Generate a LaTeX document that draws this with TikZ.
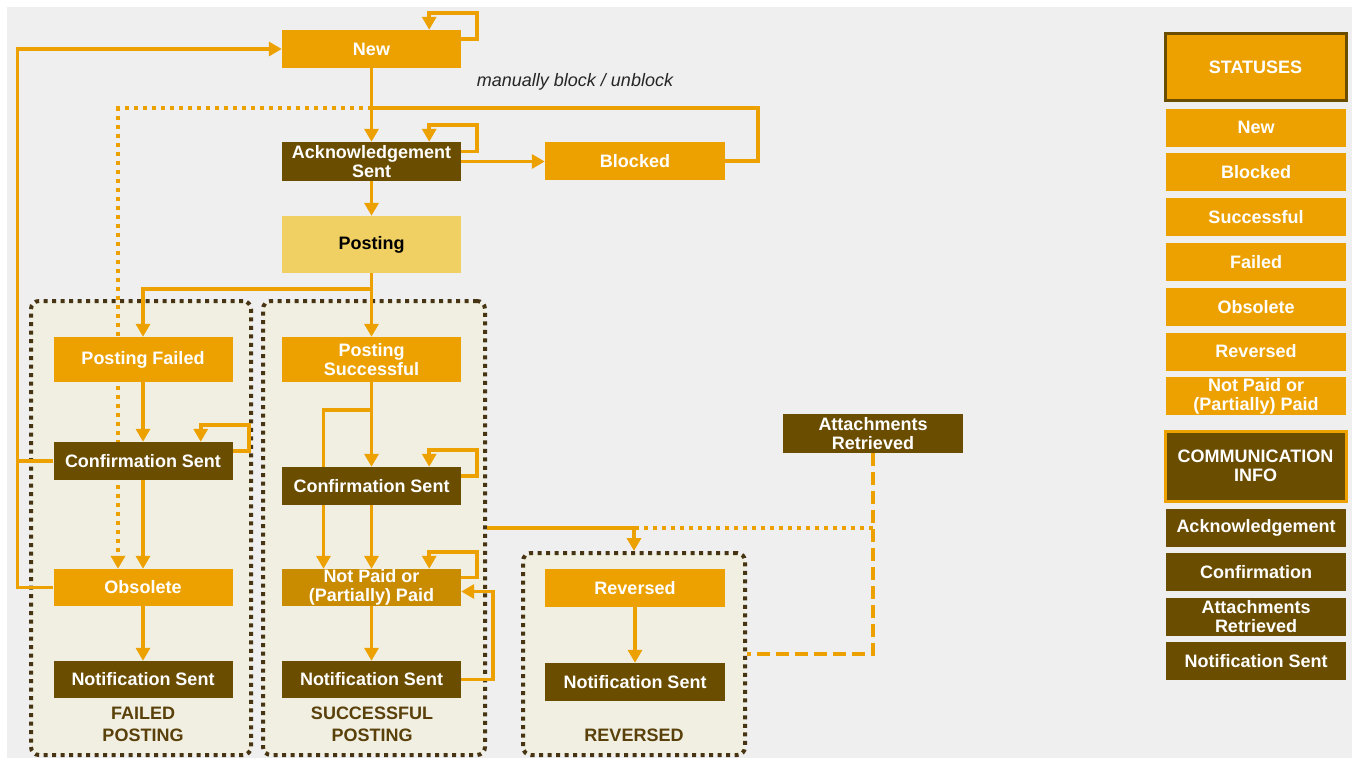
\documentclass[tikz,border=0pt]{standalone}
\usepackage{fontspec}
\setmainfont{Liberation Sans}
\usetikzlibrary{arrows.meta}

\definecolor{stat}{RGB}{237,161,0}
\definecolor{comm}{RGB}{107,77,0}
\definecolor{unpaid}{RGB}{201,139,0}
\definecolor{posted}{RGB}{240,208,98}
\definecolor{grpfill}{RGB}{240,239,225}
\definecolor{grpline}{RGB}{70,52,18}
\definecolor{grptext}{RGB}{90,64,10}
\definecolor{canvas}{RGB}{239,239,239}

\pgfdeclarelayer{paper}
\pgfdeclarelayer{groups}
\pgfdeclarelayer{lines}
\pgfsetlayers{paper,groups,lines,main}

\tikzset{
  box/.style={minimum width=179pt, minimum height=38pt, inner sep=0pt, align=center,
    text=white, font=\fontsize{18}{19}\selectfont\bfseries},
  status/.style={box, fill=stat},
  info/.style={box, fill=comm},
  grp/.style={draw=grpline, fill=grpfill, line width=4pt, dash pattern=on 4pt off 4.5pt,
    rounded corners=8pt, inner sep=0pt},
  grplabel/.style={text=grptext, align=center, font=\fontsize{18}{22}\selectfont\bfseries},
  link/.style={draw=stat, line width=3.6pt},
  flow/.style={link, -{Triangle[width=14pt,length=13pt]}},
  dotlink/.style={link, line width=4pt, dash pattern=on 4pt off 5pt},
  dashlink/.style={link, line width=4pt, dash pattern=on 13pt off 6pt},
}

\begin{document}
\begin{tikzpicture}[x=1pt, y=-1pt]
  \useasboundingbox (0,0) rectangle (1356,758);
  \begin{pgfonlayer}{paper}
    \fill[white] (0,0) rectangle (1356,758);
    \fill[canvas] (7,7) rectangle (1352,758);
  \end{pgfonlayer}

  % groups
  \begin{pgfonlayer}{groups}
    \node[grp, minimum width=220pt, minimum height=454pt] (failgrp) at (141,528) {};
    \node[grp, minimum width=222pt, minimum height=454pt] (succgrp) at (374,528) {};
    \node[grp, minimum width=222pt, minimum height=202pt] (revgrp) at (634,654) {};
  \end{pgfonlayer}
  \node[grplabel] at (143,724) {FAILED\\POSTING};
  \node[grplabel] at (372,724) {SUCCESSFUL\\POSTING};
  \node[grplabel] at (634,735) {REVERSED};

  % top
  \node[status] (new) at (371.5,49) {New};
  \node[info, minimum height=39pt] (ack) at (371.5,161.5) {Acknowledgement\\Sent};
  \node[status, minimum width=180pt] (blocked) at (635,161) {Blocked};
  \node[box, fill=posted, text=black, minimum height=57pt] (posting) at (371.5,244.5) {Posting};
  \node[font=\fontsize{18}{20}\selectfont\itshape, text=black!85] (blocktxt) at (575,82) {manually block / unblock};
  \coordinate (junc) at (371.5,108);

  % failed posting
  \node[status, minimum height=45pt] (pfail) at (143,359.5) {Posting Failed};
  \node[info] (fconf) at (143,461) {Confirmation Sent};
  \node[status, minimum height=37pt] (obsolete) at (143,587.5) {Obsolete};
  \node[info, minimum height=37pt] (fnotif) at (143,679.5) {Notification Sent};

  % successful posting
  \node[status, minimum height=45pt] (psucc) at (371.5,359.5) {Posting\\Successful};
  \node[info] (sconf) at (371.5,486) {Confirmation Sent};
  \node[box, fill=unpaid, minimum height=37pt] (notpaid) at (371.5,587.5) {Not Paid or\\(Partially) Paid};
  \node[info, minimum height=37pt] (snotif) at (371.5,679.5) {Notification Sent};

  % reversed
  \node[status, minimum width=180pt] (reversed) at (635,588) {Reversed};
  \node[info, minimum width=180pt] (rnotif) at (635,682) {Notification Sent};
  \node[info, minimum width=180pt, minimum height=39pt] (attach) at (873,433.5) {Attachments\\Retrieved};

  % legend
  \node[status, minimum width=181pt, minimum height=67pt, draw=comm, line width=3pt] (lgstat) at (1255.5,67) {STATUSES};
  \foreach \txt [count=\i] in {New,Blocked,Successful,Failed,Obsolete,Reversed,{Not Paid or\\(Partially) Paid}}
    \node[status, minimum width=180pt] (lgst\i) at (1256,82.7+44.8*\i) {\txt};
  \node[info, minimum width=181pt, minimum height=70pt, draw=stat, line width=3pt] (lgcomm) at (1255.5,466) {COMMUNICATION\\INFO};
  \foreach \txt [count=\i] in {Acknowledgement,Confirmation,{Attachments\\Retrieved},Notification Sent}
    \node[info, minimum width=180pt] (lgci\i) at (1256,484+44.2*\i) {\txt};

  \begin{pgfonlayer}{lines}
    % self loops
    \foreach \n in {new,ack,fconf,sconf,notpaid}
      \draw[flow] ([yshift=10pt]\n.east) -- ++(16,0) |- ([xshift=-32pt,yshift=17pt]\n.north east) -- ([xshift=-32pt]\n.north east);

    \draw[flow] (new) -- (ack);
    \draw[flow] (ack.east) -- (ack.east -| blocked.west);
    \draw[link] (blocked.east) -- ++(33,0) |- (junc);
    \draw[dotlink, -{Triangle[width=14pt,length=13pt]}] (junc) -| ([xshift=-25pt]obsolete.north);
    \draw[flow] (ack) -- (posting);
    \draw[flow] (posting) -- (psucc);
    \draw[flow] (posting.south) -- ++(0,16) -| (pfail.north);

    \draw[flow] (pfail) -- (fconf);
    \draw[flow] (fconf) -- (obsolete);
    \draw[flow] (obsolete) -- (fnotif);
    \draw[flow] (obsolete.west) -- ++(-36,0) |- (new.west);
    \draw[link] (fconf.west) -- ++(-36,0);

    \draw[flow] (psucc) -- (sconf);
    \draw[flow] (psucc.south) -- ++(0,28) -| ([xshift=-48pt]notpaid.north);
    \draw[flow] (sconf) -- (notpaid);
    \draw[flow] (notpaid) -- (snotif);
    \draw[flow] (snotif.east) -- ++(32,0) |- ([yshift=-4pt]notpaid.east);

    \draw[flow] (succgrp.east) -| (revgrp.north);
    \draw[flow] (reversed) -- (rnotif);
    \draw[dashlink] (attach.south) |- (revgrp.east);
    \draw[dotlink] (attach.south |- succgrp.east) -- (revgrp.north |- succgrp.east);
  \end{pgfonlayer}
\end{tikzpicture}
\end{document}
